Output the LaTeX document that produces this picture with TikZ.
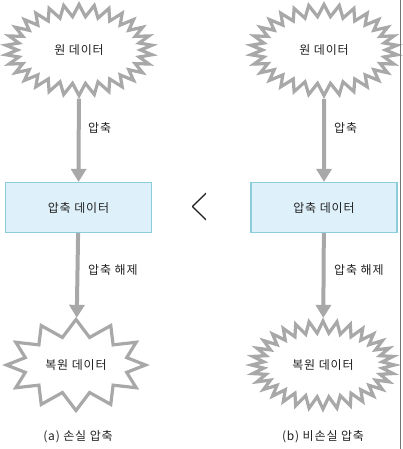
\documentclass[tikz,border=0pt]{standalone}
\usepackage{fontspec}
\usepackage{tikz}
\usetikzlibrary{arrows.meta}
\usetikzlibrary{shapes.symbols}
\usetikzlibrary{shadows}
\newfontfamily\kfont[LetterSpace=7]{Noto Sans CJK KR}
\definecolor{mgray}{rgb}{0.66, 0.66, 0.66}
\definecolor{mbox}{rgb}{0.87, 0.94, 0.98}
\definecolor{mboxline}{rgb}{0.55, 0.80, 0.86}
\definecolor{mtext}{rgb}{0.13, 0.13, 0.13}
\tikzset{burst/.style = {starburst, random starburst=0, draw=mgray, fill=white,
                         line width=3.2pt, line join=miter, inner sep=0pt,
                         font=\kfont\fontsize{12}{14}\selectfont, text=mtext},
         databox/.style = {draw=mboxline, fill=mbox, line width=1.2pt,
                           minimum width=146pt, minimum height=50pt,
                           drop shadow={shadow xshift=0.8pt, shadow yshift=-0.8pt, opacity=0.35},
                           font=\kfont\fontsize{12}{14}\selectfont, text=mtext},
         flow/.style = {draw=mgray, line width=4pt, -{Triangle[width=15pt, length=13pt]}},
         flowlabel/.style = {anchor=west, inner sep=0pt,
                             font=\kfont\fontsize{12}{14}\selectfont, text=mtext},
         caption/.style = {font=\kfont\fontsize{12}{14}\selectfont, text=mtext}}

\begin{document}
\begin{tikzpicture}[x=1pt, y=-1pt]
    \useasboundingbox (0, 0) rectangle (403, 449);

    % (a) lossy
    \node [burst, starburst points=30, starburst point height=12pt,
           minimum width=147pt, minimum height=91pt] (orig-a) at (79, 50) {원 데이터};
    \node [databox] (comp-a) at (78.5, 207.5) {압축 데이터};
    \node [burst, starburst points=12, starburst point height=17pt,
           minimum width=139pt, minimum height=91pt] (rest-a) at (76, 365) {복원 데이터};
    \draw [flow] (orig-a) -- (comp-a);
    \draw [flow] (comp-a) -- (rest-a);
    \node [flowlabel] (lbl-comp-a) at (88, 128) {압축};
    \node [flowlabel] (lbl-dec-a) at (88, 270) {압축 해제};
    \node [caption] (cap-a) at (78, 437) {(a) 손실 압축};

    % (b) lossless
    \node [burst, starburst points=30, starburst point height=12pt,
           minimum width=147pt, minimum height=91pt] (orig-b) at (324, 50) {원 데이터};
    \node [databox] (comp-b) at (324, 207.5) {압축 데이터};
    \node [burst, starburst points=32, starburst point height=12pt,
           minimum width=143pt, minimum height=88pt] (rest-b) at (323, 365) {복원 데이터};
    \draw [flow] (orig-b) -- (comp-b);
    \draw [flow] (comp-b) -- (rest-b);
    \node [flowlabel] (lbl-comp-b) at (334, 128) {압축};
    \node [flowlabel] (lbl-dec-b) at (334, 270) {압축 해제};
    \node [caption] (cap-b) at (323, 437) {(b) 비손실 압축};

    \node [text=mtext, inner sep=0pt] (less) at (200, 207.5)
          {\scalebox{0.95}[2]{\fontsize{25}{25}\selectfont <}};

    \draw [mgray!70!black, line width=0.8pt] (400.5, 0) -- (400.5, 449);
  \end{tikzpicture}
\end{document}
